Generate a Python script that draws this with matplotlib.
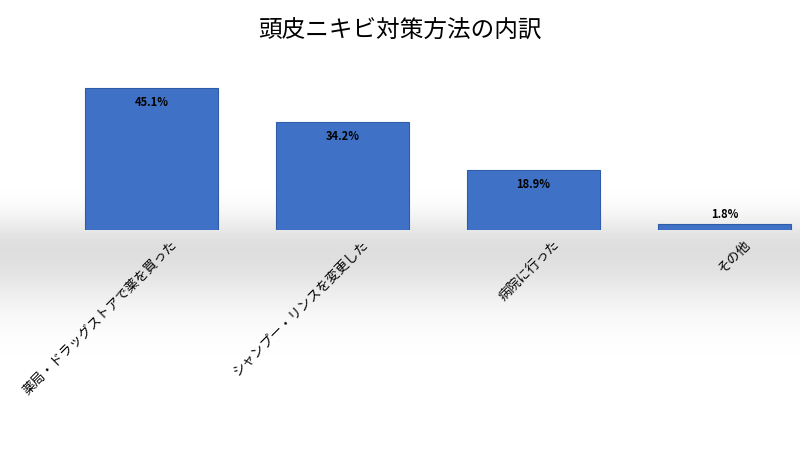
import numpy as np
import matplotlib
matplotlib.use("Agg")
import matplotlib.pyplot as plt

plt.rcParams["font.family"] = ["Noto Sans CJK JP", "DejaVu Sans"]

categories = ["薬局・ドラッグストアで薬を買った", "シャンプー・リンスを変更した", "病院に行った", "その他"]
values = [45.1, 34.2, 18.9, 1.8]

fig = plt.figure(figsize=(8, 4.7), dpi=100)

# soft grey floor behind the bars
bg = fig.add_axes([0, 0, 1, 1], zorder=0)
rows = np.linspace(0, 1, 470)
shade = 1 - 0.13 * np.exp(-((rows - 0.53) / 0.07) ** 2)
shade = np.where(rows > 0.53, 1 - 0.13 * np.exp(-((rows - 0.53) / 0.12) ** 2), shade)
img = np.repeat(shade[:, None], 800, axis=1)
bg.imshow(img, cmap="gray", vmin=0, vmax=1, aspect="auto", extent=[0, 1, 0, 1])
bg.set_axis_off()

ax = fig.add_axes([0.07, 0.511, 0.93, 0.335], zorder=1)
ax.patch.set_alpha(0)
x = np.arange(len(categories))
bars = ax.bar(x, values, width=0.7, color="#3f72c6", edgecolor="#2f5ca8", linewidth=0.8)
for b, v in zip(bars, values):
    if v > 5:
        ax.text(b.get_x() + b.get_width() / 2, v - 2.5, f"{v}%", ha="center", va="top",
                fontsize=8, fontweight="bold", color="black")
    else:
        ax.text(b.get_x() + b.get_width() / 2, v + 1, f"{v}%", ha="center", va="bottom",
                fontsize=8, fontweight="bold", color="black")

ax.set_xlim(-0.5, 3.395)
ax.set_ylim(0, 50)
ax.set_yticks([])
ax.set_xticks(x + 0.1)
ax.set_xticklabels(categories, rotation=45, ha="right", rotation_mode="anchor", fontsize=9.5)
ax.tick_params(axis="x", length=0, pad=6)
for s in ax.spines.values():
    s.set_visible(False)

fig.text(0.5, 0.935, "頭皮ニキビ対策方法の内訳", ha="center", va="center", fontsize=17)

fig.savefig("out.png", dpi=100)
